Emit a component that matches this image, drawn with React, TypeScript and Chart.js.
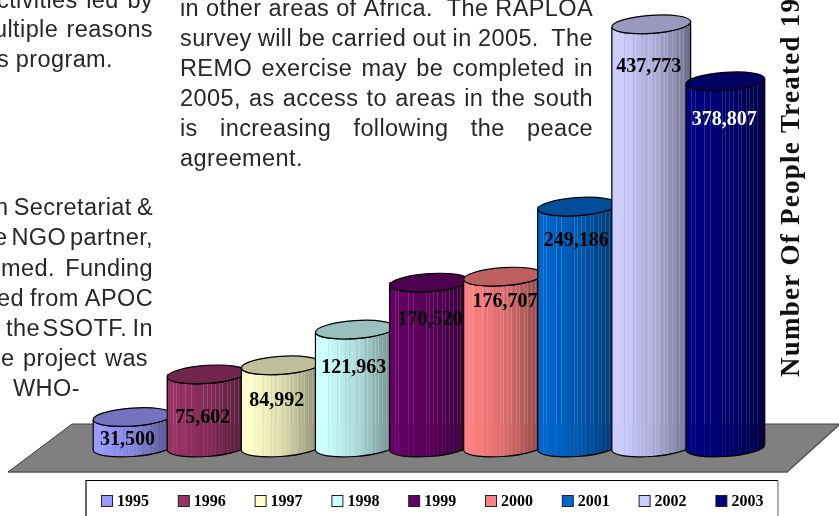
import React, { useEffect, useRef } from "react";
import { Chart, registerables } from "chart.js";

Chart.register(...registerables);

const categories = ["1995", "1996", "1997", "1998", "1999", "2000", "2001", "2002", "2003"];
const peopleTreated = [31500, 75602, 84992, 121963, 170520, 176707, 249186, 437773, 378807];
const seriesColors = ["#9999FF", "#993366", "#FFFFCC", "#CCFFFF", "#660066", "#FF8080", "#0066CC", "#CCCCFF", "#000080"];
const valueLabelColors = ["#000", "#000", "#000", "#000", "#000", "#000", "#000", "#000", "#fff"];

// Where each value label sits, relative to the centre of its cylinder's top cap.
const labelOffsetX = [-5, -4, -4, -1, 1, 2, -1, -2.5, -1];
const labelOffsetY = [22.5, 43.5, 35.5, 38.5, 37.5, 25.5, 34.5, 42.5, 38.5];

// Page copy that runs around the graphic: text, left, right, baseline.
type CopyLine = [string, number, number | null, number];
const copyLines: CopyLine[] = [
  ["ctivities led by", -3, 153, 8],
  ["ultiple reasons", -6, 153, 37],
  ["s program.", -3, 113, 67],
  ["n Secretariat &", -5, 153, 215],
  ["e NGO partner,", -6, 153, 245],
  ["med.  Funding", 1, 153, 276],
  ["ed from APOC", -3, 153, 306],
  ["the SSOTF.  In", 6, 153, 336],
  ["e project was", 1, 148, 366],
  ["WHO-", 13, null, 396],
  ["in other areas of Africa.  The RAPLOA", 180, 593, 16],
  ["survey will be carried out in 2005.  The", 180, 593, 46],
  ["REMO exercise may be completed in", 180, 593, 76],
  ["2005, as access to areas in the south", 180, 593, 106],
  ["is increasing following the peace", 180, 593, 136],
  ["agreement.", 180, null, 166],
];

const axisTitle = "Number Of People Treated 19";

// Fractions of a cylinder's width where its facets catch the light.
const facetHighlights = [0.07, 0.11, 0.23, 0.3, 0.46, 0.5, 0.55, 0.6, 0.66, 0.7, 0.76, 0.8, 0.85, 0.9];
const facetShadows = [0.16, 0.27, 0.38, 0.43, 0.52, 0.63, 0.73, 0.83, 0.93];

const CAP_RY = 9;
const CAP_TILT = (-4 * Math.PI) / 180;
const FLOOR_BACK_Y = 424;
const FLOOR_FRONT_Y = 472;

function shade(hex: string, factor: number): string {
  const n = parseInt(hex.slice(1), 16);
  const r = Math.round(((n >> 16) & 255) * factor);
  const g = Math.round(((n >> 8) & 255) * factor);
  const b = Math.round((n & 255) * factor);
  return `rgb(${r},${g},${b})`;
}

const floorPlugin = {
  id: "floor",
  beforeDatasetsDraw(chart: Chart) {
    const { ctx } = chart;
    ctx.save();
    ctx.beginPath();
    ctx.moveTo(72, FLOOR_BACK_Y);
    ctx.lineTo(8, FLOOR_FRONT_Y);
    ctx.lineTo(787, FLOOR_FRONT_Y);
    ctx.lineTo(840, FLOOR_BACK_Y);
    ctx.closePath();
    ctx.fillStyle = "#808080";
    ctx.fill();
    ctx.lineWidth = 1;
    ctx.strokeStyle = "#3c3c3c";
    ctx.beginPath();
    ctx.moveTo(8, FLOOR_FRONT_Y);
    ctx.lineTo(72, FLOOR_BACK_Y);
    ctx.lineTo(840, FLOOR_BACK_Y);
    ctx.stroke();
    ctx.strokeStyle = "#555";
    ctx.lineWidth = 1.5;
    ctx.beginPath();
    ctx.moveTo(8, FLOOR_FRONT_Y);
    ctx.lineTo(787, FLOOR_FRONT_Y);
    ctx.lineTo(840, FLOOR_BACK_Y);
    ctx.stroke();
    ctx.restore();
  },
};

function drawCylinder(ctx: CanvasRenderingContext2D, cx: number, top: number, base: number, w: number, color: string) {
  const rx = w / 2;
  const dx = rx * Math.cos(CAP_TILT);
  const dy = rx * Math.sin(CAP_TILT);
  const left = cx - dx;
  const right = cx + dx;

  const outline = () => {
    ctx.beginPath();
    ctx.moveTo(left, top - dy);
    ctx.lineTo(left, base - dy);
    ctx.ellipse(cx, base, rx, CAP_RY, CAP_TILT, Math.PI, 0, true);
    ctx.lineTo(right, top + dy);
    ctx.ellipse(cx, top, rx, CAP_RY, CAP_TILT, 0, Math.PI, false);
    ctx.closePath();
  };

  ctx.save();
  outline();
  const g = ctx.createLinearGradient(left, 0, right, 0);
  g.addColorStop(0, color);
  g.addColorStop(0.12, color);
  g.addColorStop(0.55, shade(color, 0.85));
  g.addColorStop(0.9, shade(color, 0.62));
  g.addColorStop(1, shade(color, 0.5));
  ctx.fillStyle = g;
  ctx.fill();

  // Vertical facets, fainter where they pass in front of the floor.
  ctx.clip();
  ctx.lineWidth = 1;
  const facet = (f: number, style: string, fade: number) => {
    const x = Math.round(left + (right - left) * f) + 0.5;
    ctx.strokeStyle = style;
    ctx.globalAlpha = 1;
    ctx.beginPath();
    ctx.moveTo(x, top - CAP_RY);
    ctx.lineTo(x, FLOOR_BACK_Y);
    ctx.stroke();
    ctx.globalAlpha = fade;
    ctx.beginPath();
    ctx.moveTo(x, FLOOR_BACK_Y);
    ctx.lineTo(x, base + CAP_RY + 2);
    ctx.stroke();
  };
  facetHighlights.forEach((f) => facet(f, "rgba(255,255,255,0.15)", 0.4));
  facetShadows.forEach((f) => facet(f, "rgba(0,0,0,0.06)", 0.7));
  ctx.restore();

  ctx.save();
  outline();
  ctx.strokeStyle = "#000";
  ctx.lineWidth = 1.2;
  ctx.stroke();
  ctx.beginPath();
  ctx.ellipse(cx, top, rx, CAP_RY, CAP_TILT, 0, Math.PI * 2);
  ctx.fillStyle = shade(color, 0.75);
  ctx.fill();
  ctx.stroke();
  ctx.restore();
}

const cylinderPlugin = {
  id: "cylinders",
  afterDatasetsDraw(chart: Chart) {
    const { ctx } = chart;
    const bars = chart.getDatasetMeta(0).data as any[];
    bars.forEach((bar, i) => {
      drawCylinder(ctx, bar.x, bar.y, bar.base, bar.width, seriesColors[i]);
    });
    ctx.save();
    ctx.font = "bold 20px 'Liberation Serif'";
    ctx.textAlign = "center";
    ctx.textBaseline = "middle";
    bars.forEach((bar, i) => {
      ctx.fillStyle = valueLabelColors[i];
      ctx.fillText(peopleTreated[i].toLocaleString("en-US"), bar.x + labelOffsetX[i], bar.y + labelOffsetY[i]);
    });
    ctx.restore();
  },
};

const pagePlugin = {
  id: "pageFurniture",
  afterDraw(chart: Chart) {
    const { ctx } = chart as any;

    // Body copy, each line stretched to its measure through word spacing.
    ctx.save();
    ctx.font = "23.5px 'Liberation Sans'";
    ctx.fillStyle = "#2a2626";
    ctx.textAlign = "left";
    ctx.textBaseline = "alphabetic";
    ctx.letterSpacing = "0.4px";
    copyLines.forEach(([text, x0, x1, baseline]) => {
      ctx.wordSpacing = "0px";
      if (x1 !== null) {
        const gaps = text.split(" ").length - 1;
        const spare = x1 - x0 - ctx.measureText(text).width;
        if (gaps > 0) ctx.wordSpacing = `${spare / gaps}px`;
      }
      ctx.fillText(text, x0, baseline);
    });
    ctx.restore();

    // Axis title, running up the right-hand side.
    ctx.save();
    ctx.translate(799, 377);
    ctx.rotate(-Math.PI / 2);
    ctx.font = "bold 27px 'Liberation Serif'";
    ctx.letterSpacing = "1.25px";
    ctx.fillStyle = "#111";
    ctx.textBaseline = "alphabetic";
    ctx.fillText(axisTitle, 0, 0);
    ctx.restore();

    // Legend panel.
    ctx.save();
    ctx.strokeStyle = "#000";
    ctx.lineWidth = 1.2;
    ctx.beginPath();
    ctx.moveTo(86, 517);
    ctx.lineTo(86, 480.5);
    ctx.lineTo(778, 480.5);
    ctx.stroke();
    ctx.strokeStyle = "#777";
    ctx.beginPath();
    ctx.moveTo(778, 480.5);
    ctx.lineTo(778, 517);
    ctx.stroke();
    ctx.font = "bold 16px 'Liberation Serif'";
    ctx.textBaseline = "middle";
    categories.forEach((label, i) => {
      const x = 101 + i * 76.8;
      ctx.fillStyle = seriesColors[i];
      ctx.fillRect(x + 0.5, 495.5, 11, 11);
      ctx.strokeStyle = "#222";
      ctx.lineWidth = 1;
      ctx.strokeRect(x + 0.5, 495.5, 11, 11);
      ctx.fillStyle = "#000";
      ctx.fillText(label, x + 16, 501.5);
    });
    ctx.restore();
  },
};

export default function App() {
  const canvasRef = useRef<HTMLCanvasElement>(null);

  useEffect(() => {
    const chart = new Chart(canvasRef.current!, {
      type: "bar",
      data: {
        labels: categories,
        datasets: [
          {
            label: "Number Of People Treated",
            data: peopleTreated,
            backgroundColor: seriesColors,
            barThickness: 79,
            borderWidth: 0,
          },
        ],
      },
      options: {
        responsive: false,
        animation: false,
        layout: { padding: { left: 95.5, right: 76.6, top: 12.5, bottom: 68.5 } },
        scales: {
          x: { display: false },
          y: { display: false, min: 0, max: 450000 },
        },
        plugins: {
          legend: { display: false },
          tooltip: { enabled: false },
        },
      },
      plugins: [floorPlugin, cylinderPlugin, pagePlugin],
    });
    return () => chart.destroy();
  }, []);

  return (
    <div style={{ position: "absolute", left: 0, top: 0, width: 839, height: 516, overflow: "hidden", background: "#fff" }}>
      <canvas ref={canvasRef} width={839} height={516} style={{ display: "block" }} />
    </div>
  );
}
